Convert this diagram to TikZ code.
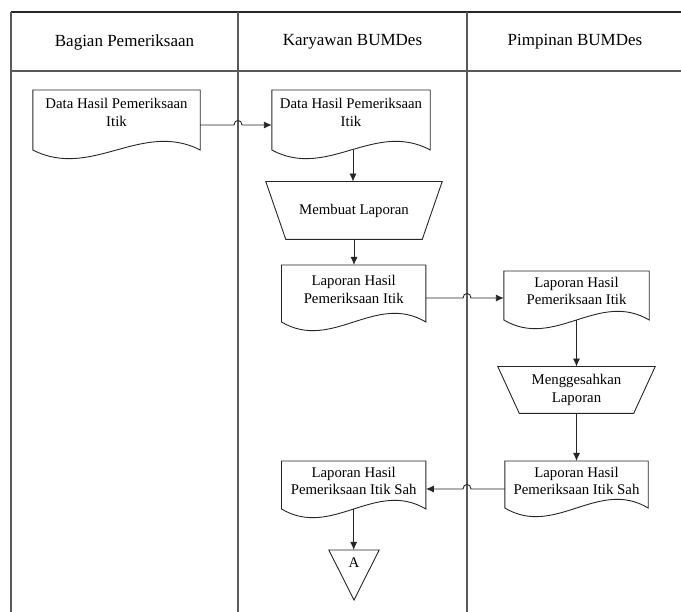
\documentclass[tikz,border=0pt]{standalone}
\usepackage{fontspec}
\setmainfont{Liberation Serif}
\usetikzlibrary{calc,arrows.meta}
\tikzset{
  x=1pt,y=-1pt,
  tline/.style={line width=1.3pt,draw=black!65},
  sline/.style={line width=0.9pt,draw=black!85},
  arr/.style={sline,-{Latex[length=8pt,width=7pt]}},
  head/.style={font=\fontsize{17}{20}\selectfont},
  txt/.style={font=\fontsize{14.8}{17.5}\selectfont,align=center,inner sep=0pt},
  docnode/.style={txt,anchor=north,minimum width=#1},
}
\newcommand\docout[2]{%
  \draw[sline] (#1.north west) -- (#1.north east) -- ($(#1.north east)+(0,#2)$)
   .. controls ($(#1.north east)!0.35!(#1.north west)+(0,#2-30)$) and ($(#1.north west)!0.35!(#1.north east)+(0,#2+30)$) .. ($(#1.north west)+(0,#2)$) -- cycle;}
\newcommand\trapout[2]{%
  \draw[sline] (#1.north west) -- (#1.north east) -- ($(#1.south east)+(-#2,0)$) -- ($(#1.south west)+(#2,0)$) -- cycle;}
\begin{document}
\begin{tikzpicture}
\useasboundingbox (0,0) rectangle (681,612);
% table
\coordinate (TL) at (11,12);
\coordinate (TR) at (681,12);
\coordinate (BL) at (11,612);
\coordinate (HL) at (11,71);
\coordinate (HR) at (681,71);
\coordinate (L1) at (238,12);
\coordinate (L1b) at (238,612);
\coordinate (L2) at (467,12);
\coordinate (L2b) at (467,612);
\draw[tline,draw=black!85] (TL) -- (TR);
\draw[tline] (TL) -- (BL);
\draw[tline] (HL) -- (HR);
\draw[tline] (L1) -- (L1b);
\draw[tline] (L2) -- (L2b);
\node[head] (h1) at (124.5,42) {Bagian Pemeriksaan};
\node[head] (h2) at (352.5,42) {Karyawan BUMDes};
\node[head] (h3) at (575,42) {Pimpinan BUMDes};

% documents
\node[docnode=167,minimum height=44] (d1) at (116.5,90) {Data Hasil Pemeriksaan\\Itik};
\docout{d1}{60}
\node[docnode=158,minimum height=44] (d2) at (351,90) {Data Hasil Pemeriksaan\\Itik};
\docout{d2}{60}
\node[txt,minimum width=176,minimum height=57.5] (t1) at (354,210.5) {Membuat Laporan};
\trapout{t1}{20}
\node[docnode=144,minimum height=48] (d3) at (353.7,265) {Laporan Hasil\\Pemeriksaan Itik};
\docout{d3}{57}
\node[docnode=145,minimum height=39] (d4) at (576.5,271) {Laporan Hasil\\Pemeriksaan Itik};
\docout{d4}{49}
\node[txt,minimum width=157,minimum height=46.5] (t2) at (576.5,390) {Menggesahkan\\Laporan};
\trapout{t2}{21.5}
\node[docnode=143,minimum height=39] (d5) at (576.5,461) {Laporan Hasil\\Pemeriksaan Itik Sah};
\docout{d5}{47}
\node[docnode=144,minimum height=39] (d6) at (353.7,461) {Laporan Hasil\\Pemeriksaan Itik Sah};
\docout{d6}{48}
\node[txt,minimum width=50,minimum height=25,anchor=north] (tri) at (354,550) {A};
\draw[sline] (tri.north west) -- (tri.north east) -- ($(tri.north)+(0,50)$) -- cycle;

% connectors
\coordinate (s1) at ($(d1.north east)+(0,35)$);
\draw[arr] (s1) -- ($(s1 -| L1)+(-4,0)$) .. controls +(0,-6) and +(0,-6) .. ($(s1 -| L1)+(4,0)$) -- (s1 -| d2.west);
\coordinate (s2) at ($(d2.north)+(2,60)$);
\draw[arr] (s2) -- (s2 |- t1.north);
\draw[arr] (t1.south) -- (t1.south |- d3.north);
\coordinate (s3) at ($(d3.north east)+(0,33)$);
\draw[arr] (s3) -- ($(s3 -| L2)+(-4,0)$) .. controls +(0,-6) and +(0,-6) .. ($(s3 -| L2)+(4,0)$) -- (s3 -| d4.west);
\coordinate (s4) at ($(d4.north)+(0,49)$);
\draw[arr] (s4) -- (s4 |- t2.north);
\draw[arr] (t2.south) -- (t2.south |- d5.north);
\coordinate (s5) at ($(d5.north west)+(0,28)$);
\draw[arr] (s5) -- ($(s5 -| L2)+(4,0)$) .. controls +(0,-6) and +(0,-6) .. ($(s5 -| L2)+(-4,0)$) -- (s5 -| d6.east);
\coordinate (s6) at ($(d6.north)+(0,48)$);
\draw[arr] (s6) -- (s6 |- tri.north);
\end{tikzpicture}
\end{document}
